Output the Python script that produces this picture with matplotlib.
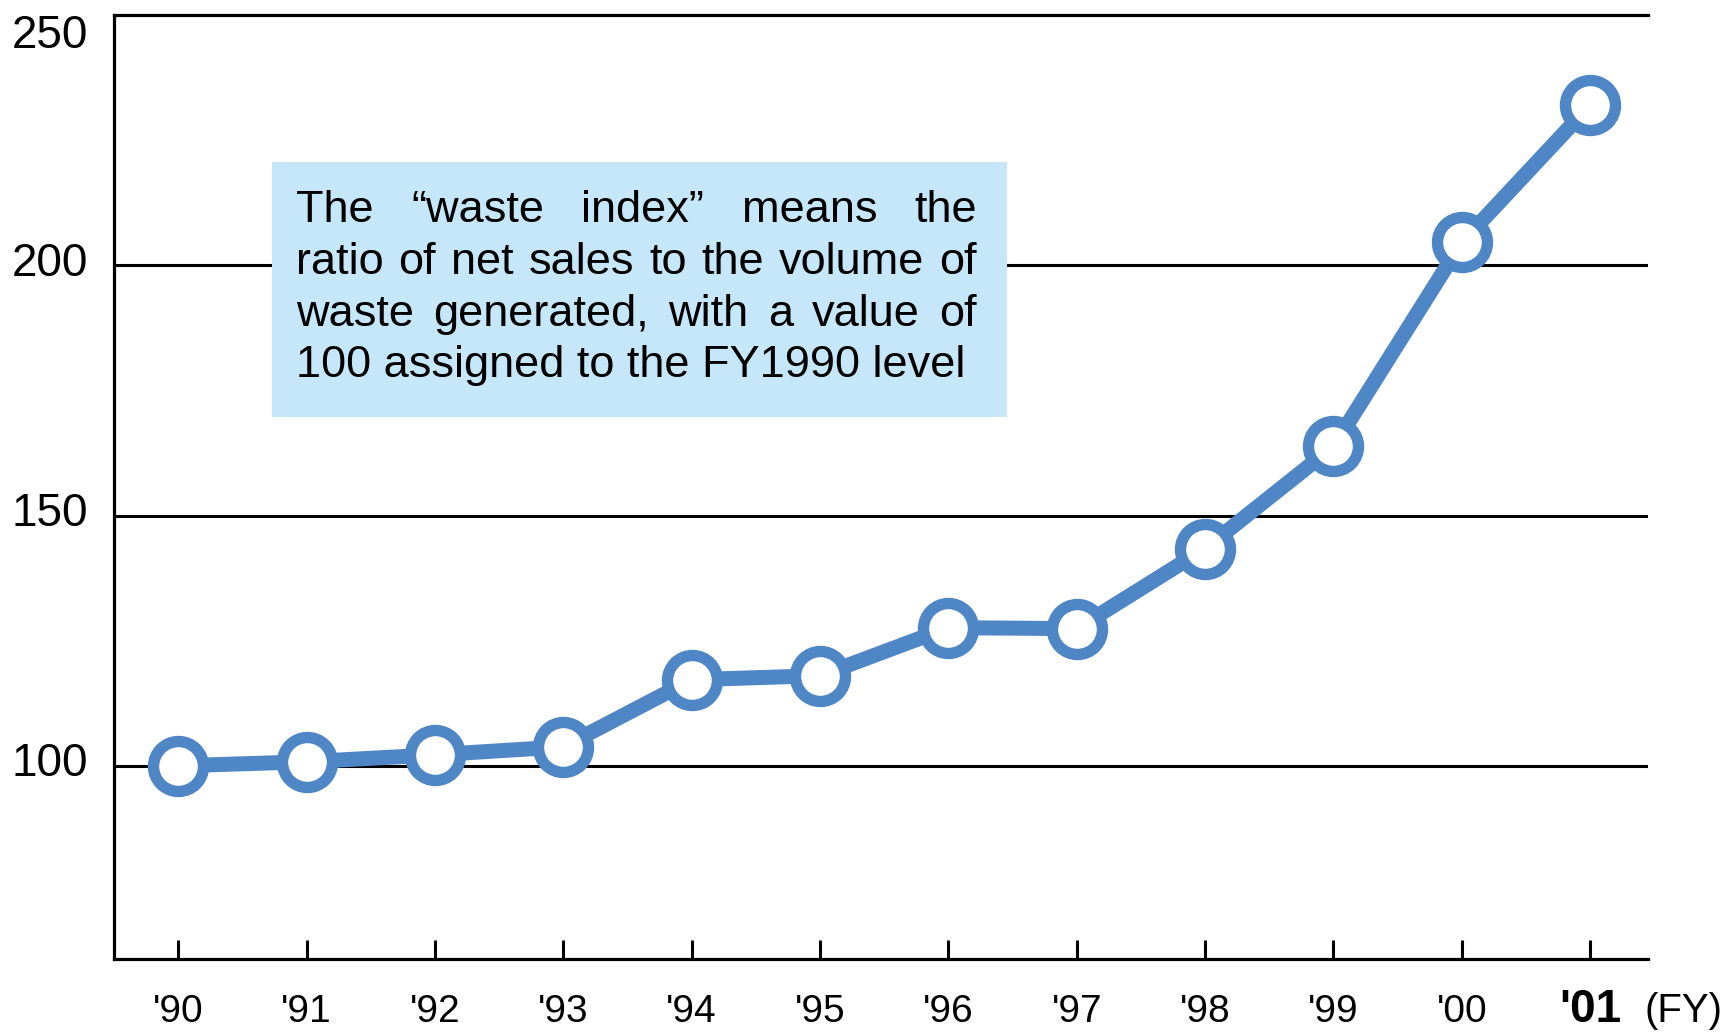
import matplotlib
matplotlib.use('Agg')
import matplotlib.pyplot as plt
from matplotlib.patches import Rectangle
from matplotlib.transforms import blended_transform_factory

# Data
years = ["'90", "'91", "'92", "'93", "'94", "'95", "'96", "'97", "'98", "'99", "'00", "'01"]
waste_index = [100, 100.8, 102.2, 103.8, 117.2, 118, 127.6, 127.4, 143.4, 163.8, 204.6, 232]
y_ticks = [100, 150, 200, 250]
note_lines = [
    "The \u201cwaste index\u201d means the",
    "ratio of net sales to the volume of",
    "waste generated, with a value of",
    "100 assigned to the FY1990 level",
]

W, H = 1731, 1033
blue = '#4f86c6'
plt.rcParams['font.family'] = ['Liberation Sans', 'DejaVu Sans']

fig = plt.figure(figsize=(W / 100, H / 100), dpi=100)
ax = fig.add_axes([114 / W, 1 - 959 / H, (1648 - 114) / W, (959 - 15) / H])

x = list(range(len(years)))
ax.plot(x, waste_index, color=blue, lw=10.8, marker='o', ms=36,
        mfc='white', mec=blue, mew=8.2, zorder=3, clip_on=False)

ax.set_xlim(-0.5, 11.45)
ax.set_ylim(61.4, 250)

# spines / grid
for s in ['left', 'bottom', 'top']:
    ax.spines[s].set_linewidth(2.3)
ax.spines['right'].set_visible(False)
ax.set_yticks(y_ticks[:-1])
ax.set_yticklabels([])
ax.yaxis.grid(True, color='black', lw=2.2)
ax.set_axisbelow(True)
ax.tick_params(axis='y', length=0)

# y labels sit on a baseline a little below each level (250 pushed down to stay inside)
tr_y = blended_transform_factory(fig.transFigure, ax.transData)
for v in y_ticks:
    yb = 243.4 if v == 250 else v - 2.1
    ax.text(88 / W, yb, str(v), transform=tr_y, ha='right', va='baseline', fontsize=33)

# x ticks drawn inward, labels on a common baseline
ax.set_xticks(x)
ax.set_xticklabels([])
ax.tick_params(axis='x', direction='in', length=13.7, width=2.2)
tr_x = blended_transform_factory(ax.transData, fig.transFigure)
for i, lab in enumerate(years):
    if i == len(years) - 1:
        ax.text(i, 1 - 1022 / H, lab, transform=tr_x, ha='center', va='baseline',
                fontsize=33, fontweight='bold')
    else:
        ax.text(i, 1 - 1022 / H, lab, transform=tr_x, ha='center', va='baseline', fontsize=28)
fig.text(1645 / W, 1 - 1022 / H, '(FY)', ha='left', va='baseline', fontsize=29)

# note box
fig.add_artist(Rectangle((272 / W, 1 - 417 / H), (1007 - 272) / W, (417 - 162) / H,
                         transform=fig.transFigure, facecolor='#c6e7f9', edgecolor='none', zorder=2))
renderer = fig.canvas.get_renderer()
baselines = [222, 274, 326, 377]
left, right = 296, 977
fs = 32.5
for i, line in enumerate(note_lines):
    yb = 1 - baselines[i] / H
    if i == len(note_lines) - 1:
        fig.text(left / W, yb, line, fontsize=fs, va='baseline', ha='left', zorder=4)
        continue
    words = line.split()
    texts = [fig.text(0, yb, w, fontsize=fs, va='baseline', ha='left', zorder=4) for w in words]
    widths = [t.get_window_extent(renderer).width for t in texts]
    gap = (right - left - sum(widths)) / (len(words) - 1)
    pos = left
    for t, w in zip(texts, widths):
        t.set_x(pos / W)
        pos += w + gap

fig.savefig('out.png', dpi=100)
